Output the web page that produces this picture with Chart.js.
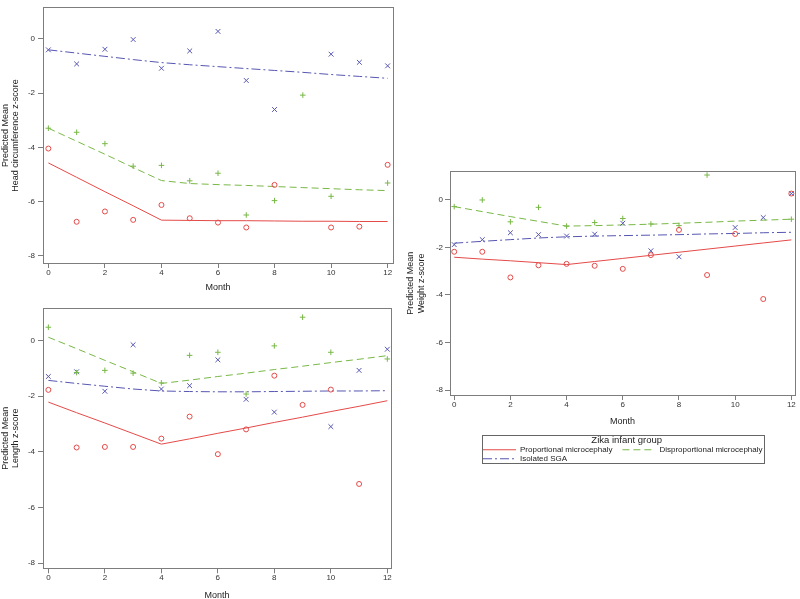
<!DOCTYPE html>
<html><head><meta charset="utf-8">
<script src="https://cdn.jsdelivr.net/npm/chart.js@4.4.1/dist/chart.umd.min.js"></script>
<style>
html,body{margin:0;padding:0;background:#fff;overflow:hidden;width:800px;height:599px;}
.p{position:absolute;}
canvas{display:block;}
</style></head><body>
<div class="p" style="left:0;top:0;"><canvas id="c1" width="400" height="300"></canvas></div>
<div class="p" style="left:0;top:300px;"><canvas id="c2" width="400" height="310"></canvas></div>
<div class="p" style="left:400px;top:160px;"><canvas id="c3" width="400" height="313"></canvas></div>
<script>
// ---------- data ----------
const months = [0,1,2,3,4,5,6,7,8,9,10,11,12];
const monthTicks = [0,2,4,6,8,10,12];
const zTicks = [-8,-6,-4,-2,0];
const groupNames = ['Proportional microcephaly','Disproportional microcephaly','Isolated SGA'];
const legendTitle = 'Zika infant group';

// Head circumference z-score
const hcObsProp = [-4.04,-6.74,-6.36,-6.67,-6.12,-6.61,-6.77,-6.95,-5.38,null,-6.95,-6.92,-4.64];
const hcObsDisp = [-3.29,-3.44,-3.86,-4.69,-4.66,-5.23,-4.95,-6.49,-5.96,-2.07,-5.80,null,-5.31];
const hcObsSga  = [-0.40,-0.92,-0.38,-0.02,-1.08,-0.44,0.28,-1.53,-2.60,null,-0.56,-0.86,-0.99];
const hcFitProp = [-4.57,-5.10,-5.63,-6.15,-6.68,-6.69,-6.70,-6.70,-6.71,-6.72,-6.72,-6.73,-6.73];
const hcFitDisp = [-3.29,-3.77,-4.25,-4.74,-5.22,-5.33,-5.37,-5.40,-5.44,-5.48,-5.52,-5.56,-5.59];
const hcFitSga  = [-0.40,-0.52,-0.64,-0.76,-0.87,-0.95,-1.02,-1.09,-1.16,-1.23,-1.31,-1.38,-1.45];

// Length z-score
const lenObsProp = [-1.77,-3.84,-3.82,-3.82,-3.52,-2.73,-4.08,-3.19,-1.26,-2.31,-1.76,-5.15,null];
const lenObsDisp = [0.48,-1.15,-1.07,-1.17,-1.52,-0.53,-0.42,-1.92,-0.19,0.84,-0.42,null,-0.66];
const lenObsSga  = [-1.29,-1.12,-1.82,-0.15,-1.74,-1.62,-0.69,-2.11,-2.57,null,-3.09,-1.07,-0.31];
const lenFitProp = [-2.21,-2.59,-2.96,-3.34,-3.72,-3.53,-3.33,-3.14,-2.94,-2.75,-2.55,-2.36,-2.16];
const lenFitDisp = [0.12,-0.29,-0.71,-1.12,-1.54,-1.42,-1.29,-1.17,-1.04,-0.92,-0.79,-0.67,-0.54];
const lenFitSga  = [-1.43,-1.54,-1.64,-1.74,-1.81,-1.83,-1.84,-1.84,-1.83,-1.82,-1.81,-1.81,-1.80];

// Weight z-score
const wtObsProp = [-2.18,-2.18,-3.26,-2.75,-2.69,-2.77,-2.90,-2.32,-1.26,-3.16,-1.43,-4.17,0.27];
const wtObsDisp = [-0.28,0.00,-0.92,-0.31,-1.10,-0.95,-0.78,-1.01,-1.08,1.05,null,null,-0.81];
const wtObsSga  = [-1.88,-1.67,-1.38,-1.46,-1.52,-1.44,-0.98,-2.14,-2.39,null,-1.16,-0.74,0.27];
const wtFitProp = [-2.41,-2.49,-2.56,-2.64,-2.72,-2.59,-2.46,-2.33,-2.20,-2.07,-1.94,-1.81,-1.68];
const wtFitDisp = [-0.28,-0.49,-0.70,-0.90,-1.10,-1.08,-1.05,-1.02,-0.98,-0.94,-0.89,-0.85,-0.81];
const wtFitSga  = [-1.82,-1.74,-1.67,-1.60,-1.55,-1.52,-1.50,-1.48,-1.46,-1.43,-1.41,-1.38,-1.36];

// ---------- styles ----------
const RED = '#e44a48', GREEN = '#78b846', BLUE = '#5656b2';
const FRAME = '#7d7d7d', TICK = '#333', TITLE = '#222';
const FONT = "'Liberation Sans', Arial, sans-serif";
const LEGEND_PAD_TEXT = '    ';
Chart.defaults.font.family = FONT;

const pts = arr => months.map((m,i)=>({x:m, y:arr[i]})).filter(p=>p.y!==null);

function makeDatasets(oP,oD,oS,fP,fD,fS){
  const line = (label,data,color,dash)=>({label,data:pts(data),showLine:true,borderColor:color,backgroundColor:color,
    borderWidth:1,borderDash:dash,pointRadius:0,pointHoverRadius:0,tension:0,fill:false,order:2});
  const mark = (label,data,color,style,r)=>({label,data:pts(data),showLine:false,pointStyle:style,pointRadius:r,
    pointBorderWidth:1,borderColor:color,backgroundColor:'rgba(0,0,0,0)',order:1});
  return [
    line(groupNames[0],fP,RED,[]),
    line(groupNames[1],fD,GREEN,[7,4]),
    line(groupNames[2],fS,BLUE,[9,3,2,3]),
    mark(groupNames[0]+' observed',oP,RED,'circle',2.5),
    mark(groupNames[1]+' observed',oD,GREEN,'cross',2.8),
    mark(groupNames[2]+' observed',oS,BLUE,'crossRot',3.4)
  ];
}

function makeScales(g, yTitle){
  return {
    x:{type:'linear',position:'bottom',min:g.xr[0],max:g.xr[1],
      afterBuildTicks:s=>{s.ticks=monthTicks.map(v=>({value:v}));},
      afterFit:s=>{s.height=g.xh;},
      grid:{display:true,drawOnChartArea:false,drawTicks:true,tickLength:5,color:FRAME,lineWidth:1},
      border:{display:true,color:FRAME,width:1},
      ticks:{padding:0,color:TICK,font:{size:8},maxRotation:0},
      title:{display:true,text:'Month',color:TITLE,font:{size:9,lineHeight:1.15},padding:{top:0,bottom:g.xpad}}},
    y:{type:'linear',position:'left',min:g.yr[0],max:g.yr[1],
      afterBuildTicks:s=>{s.ticks=zTicks.map(v=>({value:v}));},
      afterFit:s=>{s.width=g.yw;},
      grid:{display:true,drawOnChartArea:false,drawTicks:true,tickLength:5,color:FRAME,lineWidth:1},
      border:{display:true,color:FRAME,width:1},
      ticks:{padding:g.ytp,color:TICK,font:{size:8}},
      title:{display:true,text:yTitle,color:TITLE,font:{size:9,lineHeight:1.15},padding:{top:g.ypad,bottom:0}}},
    x2:{type:'linear',position:'top',min:g.xr[0],max:g.xr[1],
      grid:{display:false},ticks:{display:false},border:{display:true,color:FRAME,width:1},
      afterFit:s=>{s.height=0;}},
    y2:{type:'linear',position:'right',min:g.yr[0],max:g.yr[1],
      grid:{display:false},ticks:{display:false},border:{display:true,color:FRAME,width:1},
      afterFit:s=>{s.width=0;}}
  };
}

const legendFrame = {
  id:'legendFrame',
  afterLayout(chart,args,opts){
    const lg = chart.legend; if(!lg || !lg.options.display) return;
    lg.left += opts.shift; lg.right += opts.shift;
  },
  afterDraw(chart,args,opts){
    const lg = chart.legend; if(!lg || !lg.options.display) return;
    const ctx = chart.ctx; ctx.save();
    ctx.font = "8px " + FONT;
    const sp = ctx.measureText(LEGEND_PAD_TEXT).width;
    const pad = lg.options.labels.padding;
    const x0 = Math.round(lg.left + pad - 1) + 0.5;
    const x1 = Math.round(lg.left + pad + lg.lineWidths[0] - pad - sp + 1) + 0.5;
    const y0 = Math.round(lg.top) + 0.5;
    const y1 = Math.round(lg.top + lg.height - 10) + 0.5;
    ctx.strokeStyle = '#666'; ctx.lineWidth = 1;
    ctx.strokeRect(x0,y0,x1-x0,y1-y0);
    ctx.restore();
  }
};

function makeChart(id, datasets, g, yTitle, withLegend){
  const cfg = {
    type:'scatter',
    data:{datasets},
    options:{
      responsive:false,animation:false,events:[],
      layout:{padding:g.pad},
      scales:makeScales(g,yTitle),
      plugins:{
        tooltip:{enabled:false},
        legend: withLegend ? {
          display:true,position:'bottom',fullSize:false,align:'start',
          labels:{usePointStyle:true,pointStyle:'line',pointStyleWidth:33,padding:1,color:TITLE,font:{size:8},
            filter:item=>item.datasetIndex<3,
            generateLabels:chart=>Chart.defaults.plugins.legend.labels.generateLabels(chart)
              .map(it=>{
                const ds = chart.data.datasets[it.datasetIndex];
                return Object.assign(it,{text:it.text+LEGEND_PAD_TEXT,lineDash:ds.borderDash,
                  strokeStyle:ds.borderColor,lineWidth:ds.borderWidth});
              })},
          title:{display:true,text:legendTitle,color:TITLE,font:{size:9.5,lineHeight:1},padding:0,position:'center'}
        } : {display:false},
        legendFrame: withLegend ? {shift:32} : false
      }
    },
    plugins: withLegend ? [legendFrame] : []
  };
  return new Chart(document.getElementById(id), cfg);
}

makeChart('c1', makeDatasets(hcObsProp,hcObsDisp,hcObsSga,hcFitProp,hcFitDisp,hcFitSga),
  {xr:[-0.19,12.19],yr:[-8.26,1.15],pad:{left:0,top:2,right:7,bottom:0},xh:37,yw:43,xpad:7.8,ypad:0,ytp:3},
  ['Predicted Mean','Head circumference z-score'], false);

makeChart('c2', makeDatasets(lenObsProp,lenObsDisp,lenObsSga,lenFitProp,lenFitDisp,lenFitSga),
  {xr:[-0.19,12.13],yr:[-8.18,1.16],pad:{left:0,top:8.3,right:9,bottom:0},xh:41.7,yw:43,xpad:9.8,ypad:0,ytp:3},
  ['Predicted Mean','Length z-score'], false);

makeChart('c3', makeDatasets(wtObsProp,wtObsDisp,wtObsSga,wtFitProp,wtFitDisp,wtFitSga),
  {xr:[-0.15,12.13],yr:[-8.21,1.19],pad:{left:0,top:11.7,right:1.7,bottom:0.25},xh:40.25,yw:50,xpad:8.15,ypad:5.8,ytp:2},
  ['Predicted Mean','Weight z-score'], true);
</script>
</body></html>
